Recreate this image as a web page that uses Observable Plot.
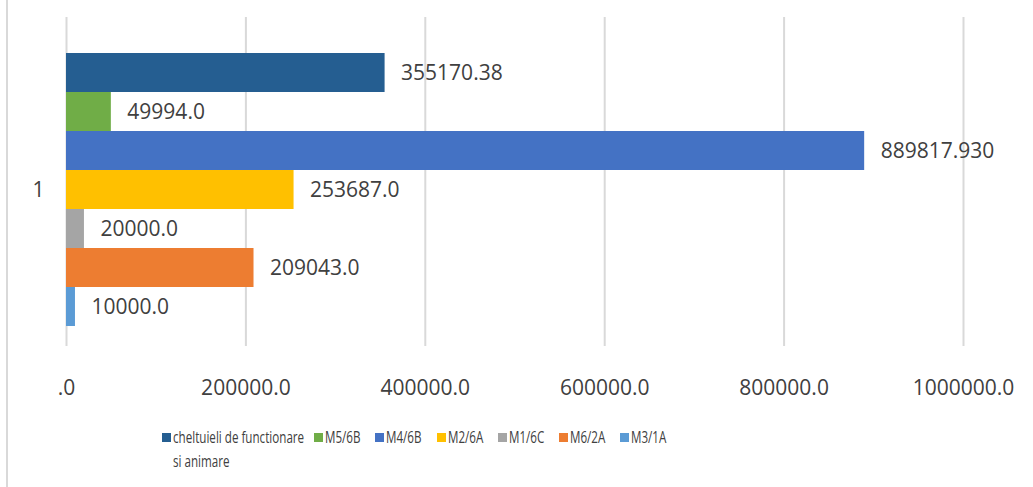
<!DOCTYPE html>
<html>
<head>
<meta charset="utf-8">
<script src="https://cdn.jsdelivr.net/npm/d3@7"></script>
<script src="https://cdn.jsdelivr.net/npm/@observablehq/plot@0.6"></script>
<style>
  body { margin: 0; background: #fff; font-family: "Open Sans", sans-serif; }
  #wrap { position: relative; width: 1033px; height: 487px; }
  #wrap::before { content: ""; position: absolute; left: 6px; top: 0; bottom: 0; border-left: 2px solid #d9d9d9; }
  #legend { position: absolute; left: 162px; top: 425px; display: flex; align-items: flex-start; font-family: "Open Sans", sans-serif; font-size: 15.5px; color: #404040; line-height: 24px; }
  .item { display: flex; align-items: flex-start; width: 61.3px; flex: none; }
  .item:first-child { width: 152px; }
  .sw { width: 9px; height: 9px; margin-top: 8px; margin-right: 2px; flex: none; }
  .tx { white-space: pre; transform: scaleX(0.75); transform-origin: 0 0; }
</style>
</head>
<body>
<div id="wrap">
  <div id="chart"></div>
  <div id="legend"></div>
</div>
<script>
const category = "1";
const series = ["cheltuieli de functionare si animare", "M5/6B", "M4/6B", "M2/6A", "M1/6C", "M6/2A", "M3/1A"];
const legendNames = ["cheltuieli de functionare\nsi animare", "M5/6B", "M4/6B", "M2/6A", "M1/6C", "M6/2A", "M3/1A"];
const values = [355170.38, 49994.0, 889817.930, 253687.0, 20000.0, 209043.0, 10000.0];
const valueLabels = ["355170.38", "49994.0", "889817.930", "253687.0", "20000.0", "209043.0", "10000.0"];
const colors = ["#255E91", "#70AD47", "#4472C4", "#FFC000", "#A5A5A5", "#ED7D31", "#5B9BD5"];
const ticks = [0, 200000, 400000, 600000, 800000, 1000000];
const tickLabels = [".0", "200000.0", "400000.0", "600000.0", "800000.0", "1000000.0"];

const data = series.map((s, i) => ({series: s, value: values[i], label: valueLabels[i]}));

const chart = Plot.plot({
  width: 1033,
  height: 415,
  marginTop: 17,
  marginBottom: 69,
  marginLeft: 66,
  marginRight: 70,
  style: {fontFamily: "Open Sans, sans-serif", fontSize: "21px", color: "#404040", background: "transparent"},
  x: {domain: [0, 1000000], ticks: ticks, tickFormat: (d) => tickLabels[ticks.indexOf(d)], tickSize: 0, tickPadding: 34, label: null},
  y: {domain: series, range: [52, 327], padding: 0, axis: null},
  color: {domain: series, range: colors},
  marks: [
    Plot.ruleX(ticks, {stroke: "#d9d9d9", strokeWidth: 2}),
    Plot.barX(data, {x: "value", y: "series", fill: "series"}),
    Plot.text(data, {x: "value", y: "series", text: "label", textAnchor: "start", dx: 16, fill: "#404040", fontSize: 21}),
    Plot.text([category], {text: d => d, frameAnchor: "left", dx: -34, dy: 8, fill: "#404040", fontSize: 21})
  ]
});
document.getElementById("chart").appendChild(chart);

const legend = document.getElementById("legend");
legendNames.forEach((n, i) => {
  const it = document.createElement("div");
  it.className = "item";
  const sw = document.createElement("div");
  sw.className = "sw";
  sw.style.background = colors[i];
  const tx = document.createElement("div");
  tx.className = "tx";
  tx.textContent = n;
  it.appendChild(sw); it.appendChild(tx);
  legend.appendChild(it);
});
</script>
</body>
</html>
